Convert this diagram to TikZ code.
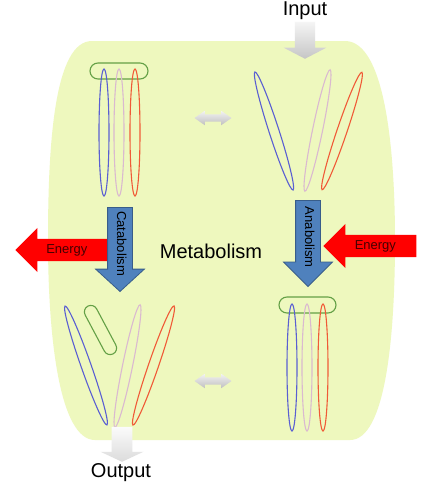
\documentclass[tikz,border=0pt]{standalone}
\usepackage{fontspec}
\setmainfont{Liberation Sans}
\usetikzlibrary{shapes,shapes.geometric,shapes.arrows,shapes.misc,positioning}
\definecolor{chblue}{RGB}{90,95,210}
\definecolor{chpink}{RGB}{218,185,208}
\definecolor{chred}{RGB}{240,90,55}
\definecolor{chgreen}{RGB}{100,160,70}
\definecolor{arrblue}{RGB}{79,129,189}
\definecolor{arrborder}{RGB}{56,93,138}
\definecolor{celledge}{RGB}{238,248,190}
\definecolor{cellmid}{RGB}{255,255,216}
\definecolor{energytext}{RGB}{70,0,0}
\tikzset{
  chrom/.style={ellipse, draw, line width=1.1pt, minimum width=10pt, minimum height=124pt, inner sep=0pt},
  linker/.style={rectangle, draw=chgreen, line width=1.1pt, rounded corners=8pt, minimum width=58pt, minimum height=16pt, inner sep=0pt},
  pathway/.style={single arrow, fill=arrblue, draw=arrborder, line width=0.8pt, single arrow head extend=12pt, minimum width=48pt,
      text height=8.5pt, text depth=2.5pt, inner ysep=6.5pt, inner xsep=2pt, font=\fontsize{13}{13}\selectfont, rotate=-90, anchor=tip},
  energy/.style={single arrow, fill=red, draw=none, single arrow head extend=11pt, minimum width=44pt, single arrow tip angle=90,
      text height=8.5pt, text depth=2.5pt, inner ysep=5.5pt, font=\fontsize{13}{13}\selectfont, text=energytext, shape border rotate=180, anchor=tip},
  flow/.style={single arrow, draw=none, top color=gray!8, bottom color=gray!45, rotate=-90,
      text height=0pt, text depth=0pt, inner ysep=10pt, inner xsep=0pt, minimum width=42pt, single arrow head extend=11pt, anchor=tip},
  swap/.style={double arrow, draw=none, top color=gray!10, bottom color=gray!50, text height=0pt, text depth=0pt,
      inner ysep=3.5pt, inner xsep=0pt, minimum height=37pt, double arrow head extend=3.5pt, double arrow tip angle=70},
  bigtext/.style={font=\fontsize{20}{24}\selectfont, inner sep=0pt}
}
\begin{document}
\begin{tikzpicture}[x=1pt, y=-1pt]
  \useasboundingbox[fill=white] (0,0) rectangle (423,485);
  % cell
  \shade[left color=celledge, middle color=cellmid, right color=celledge]
    (92,41) -- (345,41) .. controls (385,41) and (395,150) .. (395,240)
    .. controls (395,340) and (385,440) .. (350,440) -- (95,440)
    .. controls (60,440) and (48,340) .. (48,240) .. controls (48,140) and (55,41) .. (92,41) -- cycle;

  % bound, top left
  \node[linker] (tlbox) at (119,71) {};
  \node[chrom, draw=chblue, minimum height=127pt] (tl1) at (104,132.5) {};
  \node[chrom, draw=chpink, minimum height=127pt] (tl2) at (119,132.5) {};
  \node[chrom, draw=chred, minimum height=127pt] (tl3) at (135,132.5) {};
  % free, top right
  \node[chrom, draw=chblue, rotate=17.9] (tr1) at (274,131) {};
  \node[chrom, draw=chpink, rotate=-11.7] (tr2) at (317.5,130.5) {};
  \node[chrom, draw=chred, rotate=-18.7] (tr3) at (342,131) {};
  % free, bottom left
  \node[chrom, draw=chblue, minimum height=126pt, rotate=19.4] (bl1) at (86,365.5) {};
  \node[linker, minimum width=13pt, minimum height=54pt, rounded corners=6.5pt, rotate=28] (blbox) at (100.5,330) {};
  \node[chrom, draw=chpink, minimum height=125pt, rotate=-11.6] (bl2) at (127.5,366) {};
  \node[chrom, draw=chred, minimum height=126pt, rotate=-19] (bl3) at (153.5,365.5) {};
  % bound, bottom right
  \node[linker, minimum width=57pt] (brbox) at (307.5,305) {};
  \node[chrom, draw=chblue, minimum height=127pt] (br1) at (292,367.5) {};
  \node[chrom, draw=chpink, minimum height=127pt] (br2) at (307,367.5) {};
  \node[chrom, draw=chred, minimum height=127pt] (br3) at (323,367.5) {};

  \node[energy, minimum height=92pt] (eout) at (15,250) {Energy};
  \node[energy, minimum height=93pt] (ein) at (323,246) {Energy};
  \node[pathway, minimum height=84pt, single arrow tip angle=95] (catab) at (120,292) {Catabolism};
  \node[pathway, minimum height=86pt, single arrow tip angle=90] (anab) at (308,287) {Anabolism};

  \node[flow, minimum height=37pt, single arrow tip angle=125] (in) at (305,59) {};
  \node[flow, minimum height=35pt, minimum width=43pt, single arrow tip angle=130, top color=gray!3, bottom color=gray!28] (out) at (122,462) {};
  \node[swap] (sw1) at (213,118) {};
  \node[swap] (sw2) at (213,381) {};

  \node[bigtext] (input) at (305,11) {Input};
  \node[bigtext] (output) at (121,473) {Output};
  \node[bigtext] (meta) at (211,251) {Metabolism};
\end{tikzpicture}
\end{document}
